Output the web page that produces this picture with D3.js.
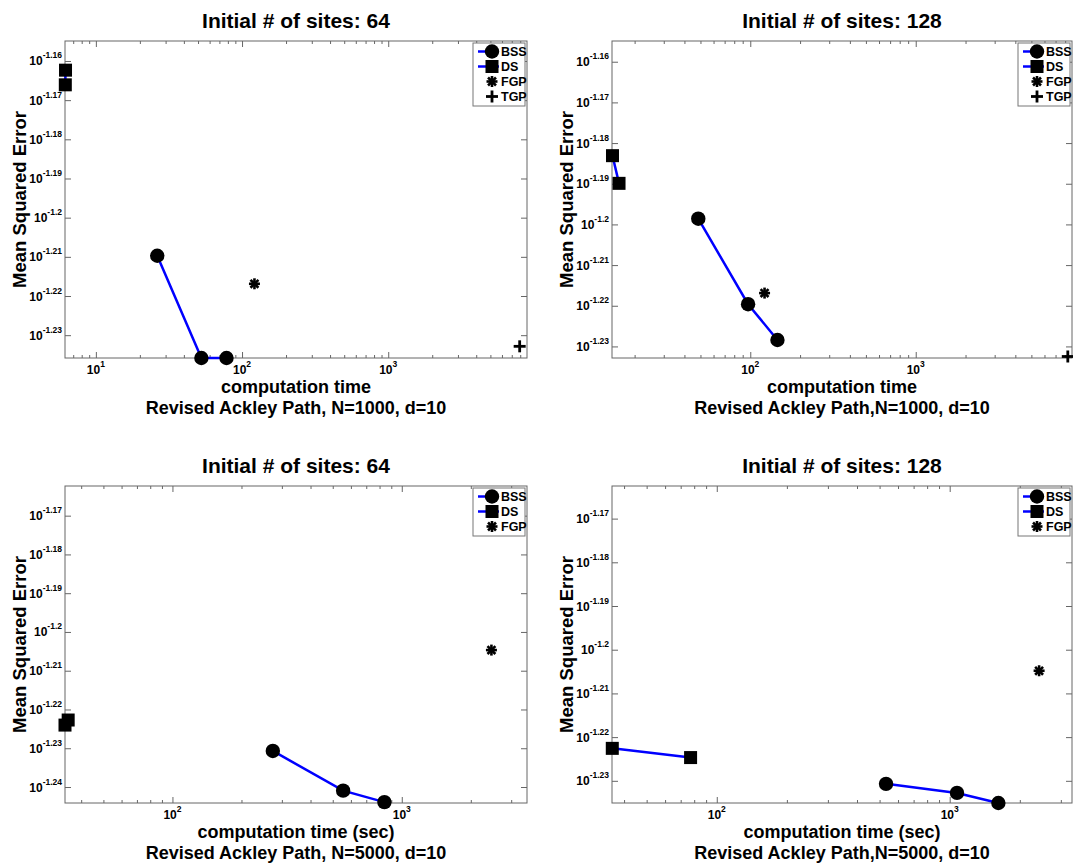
<!DOCTYPE html>
<html>
<head>
<meta charset="utf-8">
<script src="https://cdn.jsdelivr.net/npm/d3@7"></script>
<style>
  body { margin: 0; background: #fff; }
  svg { font-family: "Liberation Sans", Arial, sans-serif; font-weight: bold; }
</style>
</head>
<body>
<svg id="chart" width="1073" height="864"></svg>
<script>
// ---- data ----
// top-left: N=1000, 64 initial sites
const p1BssTime = [26.3, 52.7, 78.3];
const p1BssMse = [0.0617, 0.0581, 0.0581];
const p1DsTime = [6.2, 6.18];
const p1DsMse = [0.06881, 0.06822];
const p1FgpTime = [121.6];
const p1FgpMse = [0.06069];
const p1TgpTime = [7930];
const p1TgpMse = [0.0585];

// top-right: N=1000, 128 initial sites
const p2BssTime = [48.5, 97, 146];
const p2BssMse = [0.0633, 0.06031, 0.0591];
const p2DsTime = [14.7, 16.1];
const p2DsMse = [0.0656, 0.06458];
const p2FgpTime = [122];
const p2FgpMse = [0.06069];
const p2TgpTime = [8300];
const p2TgpMse = [0.05855];

// bottom-left: N=5000, 64 initial sites
const p3BssTime = [274, 555, 840];
const p3BssMse = [0.05879, 0.05742, 0.05703];
const p3DsTime = [34.0, 35.1];
const p3DsMse = [0.0597, 0.05988];
const p3FgpTime = [2460];
const p3FgpMse = [0.06242];

// bottom-right: N=5000, 128 initial sites
const p4BssTime = [533, 1075, 1618];
const p4BssMse = [0.05879, 0.05851, 0.0582];
const p4DsTime = [35.6, 77.2];
const p4DsMse = [0.0599, 0.05961];
const p4FgpTime = [2420];
const p4FgpMse = [0.0624];

// tick exponents (labels are 10^exp)
const yExpTop = [-1.16, -1.17, -1.18, -1.19, -1.2, -1.21, -1.22, -1.23];
const yExpBottomLeft = [-1.17, -1.18, -1.19, -1.2, -1.21, -1.22, -1.23, -1.24];
const yExpBottomRight = [-1.17, -1.18, -1.19, -1.2, -1.21, -1.22, -1.23];
const xExpP1 = [1, 2, 3];
const xExpOther = [2, 3];

const titles = ['Initial # of sites: 64', 'Initial # of sites: 128', 'Initial # of sites: 64', 'Initial # of sites: 128'];
const xLabels = ['computation time', 'computation time', 'computation time (sec)', 'computation time (sec)'];
const subLabels = ['Revised Ackley Path, N=1000, d=10', 'Revised Ackley Path,N=1000, d=10',
  'Revised Ackley Path, N=5000, d=10', 'Revised Ackley Path,N=5000, d=10'];
const legendTop = ['BSS', 'DS', 'FGP', 'TGP'];
const legendBottom = ['BSS', 'DS', 'FGP'];

const svg = d3.select('#chart');
const axisColor = '#666';
const blue = '#0000ff';

const panels = [
  { left: 65, right: 527, top: 41, bottom: 358, xDomain: [6.15, 8900], yDomain: [0.0581, 0.07],
    xExp: xExpP1, yExp: yExpTop, legend: legendTop,
    series: { BSS: [p1BssTime, p1BssMse], DS: [p1DsTime, p1DsMse], FGP: [p1FgpTime, p1FgpMse], TGP: [p1TgpTime, p1TgpMse] } },
  { left: 612, right: 1072, top: 41, bottom: 358, xDomain: [14.6, 8800], yDomain: [0.0585, 0.07],
    xExp: xExpOther, yExp: yExpTop, legend: legendTop,
    series: { BSS: [p2BssTime, p2BssMse], DS: [p2DsTime, p2DsMse], FGP: [p2FgpTime, p2FgpMse], TGP: [p2TgpTime, p2TgpMse] } },
  { left: 65, right: 527, top: 486, bottom: 803, xDomain: [34.0, 3516], yDomain: [0.0570, 0.06881],
    xExp: xExpOther, yExp: yExpBottomLeft, legend: legendBottom,
    series: { BSS: [p3BssTime, p3BssMse], DS: [p3DsTime, p3DsMse], FGP: [p3FgpTime, p3FgpMse] } },
  { left: 612, right: 1072, top: 486, bottom: 803, xDomain: [35.5, 3350], yDomain: [0.0582, 0.06878],
    xExp: xExpOther, yExp: yExpBottomRight, legend: legendBottom,
    series: { BSS: [p4BssTime, p4BssMse], DS: [p4DsTime, p4DsMse], FGP: [p4FgpTime, p4FgpMse] } }
];

function drawMarker(g, kind, cx, cy) {
  if (kind === 'BSS') {
    g.append('circle').attr('cx', cx).attr('cy', cy).attr('r', 7.2).attr('fill', '#000');
  } else if (kind === 'DS') {
    g.append('rect').attr('x', cx - 6.5).attr('y', cy - 6.5).attr('width', 13).attr('height', 13).attr('fill', '#000');
  } else if (kind === 'FGP') {
    const r = 5.5;
    [[r, 0], [0, r], [r * 0.72, r * 0.72], [r * 0.72, -r * 0.72]].forEach(([dx, dy]) => {
      g.append('line').attr('x1', cx - dx).attr('x2', cx + dx).attr('y1', cy - dy).attr('y2', cy + dy)
        .attr('stroke', '#000').attr('stroke-width', 2.6);
    });
  } else if (kind === 'TGP') {
    const r = 6;
    g.append('line').attr('x1', cx - r).attr('x2', cx + r).attr('y1', cy).attr('y2', cy).attr('stroke', '#000').attr('stroke-width', 2.8);
    g.append('line').attr('x1', cx).attr('x2', cx).attr('y1', cy - r).attr('y2', cy + r).attr('stroke', '#000').attr('stroke-width', 2.8);
  }
}

function drawPanel(p, i) {
  const g = svg.append('g');
  const x = d3.scaleLog().domain(p.xDomain).range([p.left, p.right]);
  const y = d3.scaleLog().domain(p.yDomain).range([p.bottom, p.top]);

  // minor x ticks (2..9 of each decade inside the domain)
  const minors = [];
  const e0 = Math.floor(Math.log10(p.xDomain[0]));
  const e1 = Math.ceil(Math.log10(p.xDomain[1]));
  for (let e = e0; e <= e1; e++) {
    for (let k = 2; k <= 9; k++) {
      const v = k * Math.pow(10, e);
      if (v >= p.xDomain[0] && v <= p.xDomain[1]) minors.push(v);
    }
  }
  const majors = p.xExp.map((e) => Math.pow(10, e));
  const yTicks = p.yExp.map((e) => Math.pow(10, e));

  const axes = [
    [d3.axisBottom(x).tickValues(minors).tickSize(-3), `translate(0,${p.bottom})`],
    [d3.axisTop(x).tickValues(minors).tickSize(-3), `translate(0,${p.top})`],
    [d3.axisBottom(x).tickValues(majors).tickSize(-6), `translate(0,${p.bottom})`],
    [d3.axisTop(x).tickValues(majors).tickSize(-6), `translate(0,${p.top})`],
    [d3.axisLeft(y).tickValues(yTicks).tickSize(-6), `translate(${p.left},0)`],
    [d3.axisRight(y).tickValues(yTicks).tickSize(-6), `translate(${p.right},0)`]
  ];
  axes.forEach(([ax, tr]) => {
    const a = g.append('g').attr('transform', tr).call(ax.tickFormat('').tickSizeOuter(0));
    a.select('.domain').remove();
    a.selectAll('line').attr('stroke', axisColor);
  });

  g.append('rect')
    .attr('x', p.left).attr('y', p.top)
    .attr('width', p.right - p.left).attr('height', p.bottom - p.top)
    .attr('fill', 'none').attr('stroke', axisColor).attr('stroke-width', 1);

  // x tick labels 10^n
  p.xExp.forEach((e) => {
    const t = g.append('text').attr('x', x(Math.pow(10, e))).attr('y', p.bottom + 16)
      .attr('text-anchor', 'middle').style('font-size', '12px');
    t.append('tspan').text('10');
    t.append('tspan').attr('dy', -7).style('font-size', '8.5px').text(String(e));
  });

  // y tick labels 10^exp
  p.yExp.forEach((e) => {
    const t = g.append('text').attr('x', p.left - 3).attr('y', y(Math.pow(10, e)) + 4.5)
      .attr('text-anchor', 'end').style('font-size', '12px');
    t.append('tspan').text('10');
    t.append('tspan').attr('dy', -7).style('font-size', '8.5px').text(String(e));
  });

  const cx = (p.left + p.right) / 2;
  g.append('text').attr('x', cx).attr('y', p.top - 13).attr('text-anchor', 'middle')
    .style('font-size', '21px').text(titles[i]);
  g.append('text').attr('x', cx).attr('y', p.bottom + 35).attr('text-anchor', 'middle')
    .style('font-size', '18px').text(xLabels[i]);
  g.append('text').attr('x', cx).attr('y', p.bottom + 56).attr('text-anchor', 'middle')
    .style('font-size', '18px').text(subLabels[i]);
  g.append('text')
    .attr('transform', `translate(${p.left - 39},${(p.top + p.bottom) / 2}) rotate(-90)`)
    .attr('text-anchor', 'middle').style('font-size', '18.5px').text('Mean Squared Error');

  // lines for BSS and DS
  const line = d3.line().x((d) => x(d[0])).y((d) => y(d[1]));
  ['BSS', 'DS'].forEach((k) => {
    const [tx, my] = p.series[k];
    g.append('path').datum(tx.map((v, j) => [v, my[j]]))
      .attr('d', line).attr('fill', 'none').attr('stroke', blue).attr('stroke-width', 2.5);
  });
  Object.keys(p.series).forEach((k) => {
    const [tx, my] = p.series[k];
    tx.forEach((v, j) => drawMarker(g, k, x(v), y(my[j])));
  });

  // legend
  const n = p.legend.length;
  const bw = 52, bh = n * 15 + 3;
  const bx = p.right - 2 - bw, by = p.top + 2;
  const lg = g.append('g');
  lg.append('rect').attr('x', bx).attr('y', by).attr('width', bw).attr('height', bh)
    .attr('fill', '#fff').attr('stroke', '#777').attr('stroke-width', 1);
  p.legend.forEach((k, j) => {
    const ry = by + 8.5 + j * 15;
    if (k === 'BSS' || k === 'DS') {
      lg.append('line').attr('x1', bx + 5).attr('x2', bx + 26).attr('y1', ry).attr('y2', ry)
        .attr('stroke', blue).attr('stroke-width', 2.5);
    }
    drawMarker(lg, k, bx + 19, ry);
    lg.append('text').attr('x', bx + 28).attr('y', ry + 4.5).style('font-size', '12.5px').text(k);
  });
}

panels.forEach(drawPanel);
</script>
</body>
</html>
